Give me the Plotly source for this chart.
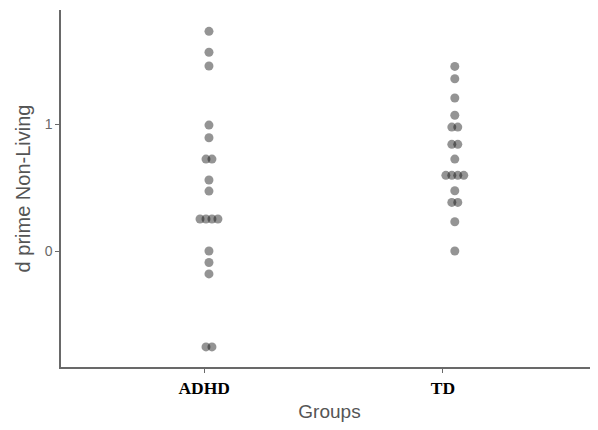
import plotly.graph_objects as go
import numpy as np

groups = ["ADHD", "TD"]
group_pos = [1, 2]
group_shift = [0.02, 0.05]   # dots sit slightly right of the tick in the reference

adhd_values = [1.73, 1.565, 1.457, 0.992, 0.892, 0.724, 0.724, 0.559, 0.472,
               0.252, 0.252, 0.252, 0.252, 0.0, -0.09, -0.18, -0.755, -0.755]
td_values = [1.454, 1.357, 1.205, 1.069, 0.976, 0.976, 0.840, 0.840, 0.724,
             0.596, 0.596, 0.596, 0.596, 0.475, 0.383, 0.383, 0.231, 0.0]
series = [adhd_values, td_values]

y_ticks = [0, 1]
spacing = 0.025


def swarm_x(values, center):
    vals = np.array(values)
    out = np.zeros(len(vals))
    seen = {}
    for i, v in enumerate(vals):
        seen.setdefault(round(v, 4), []).append(i)
    for v, idx in seen.items():
        n = len(idx)
        for k, i in enumerate(idx):
            out[i] = center + (k - (n - 1) / 2) * spacing
    return out


fig = go.Figure()
for g, pos, sh, vals in zip(groups, group_pos, group_shift, series):
    fig.add_trace(go.Scatter(
        x=swarm_x(vals, pos + sh), y=vals, mode="markers",
        marker=dict(size=9, color="rgba(0,0,0,0.42)", line=dict(width=0)),
        name=g, showlegend=False, hoverinfo="y"))

fig.update_layout(
    width=590, height=414,
    margin=dict(l=53, r=0, t=2, b=55),
    paper_bgcolor="white", plot_bgcolor="white",
    xaxis=dict(range=[0.4, 2.65], tickvals=group_pos, ticktext=groups,
               showgrid=False, zeroline=False, showline=True,
               linecolor="rgb(105,105,105)", linewidth=1.5,
               ticks="outside", ticklen=4, tickcolor="rgb(105,105,105)",
               tickfont=dict(family="Liberation Serif, serif", size=17.5,
                             color="black", weight="bold"),
               title=dict(text="Groups", font=dict(family="Liberation Sans, Arial", size=19,
                                                 color="rgb(85,85,85)"), standoff=10)),
    yaxis=dict(range=[-0.913, 1.898], tickvals=y_ticks, ticktext=[str(t) for t in y_ticks],
               showgrid=False, zeroline=False, showline=True,
               linecolor="rgb(105,105,105)", linewidth=1.5,
               ticks="outside", ticklen=4, tickcolor="rgb(105,105,105)",
               tickfont=dict(family="Liberation Sans, Arial", size=14, color="rgb(105,105,105)"),
               title=dict(text="d prime Non-Living", font=dict(family="Liberation Sans, Arial", size=20,
                                                             color="rgb(85,85,85)"), standoff=9)),
)

fig.write_html("out.html")
